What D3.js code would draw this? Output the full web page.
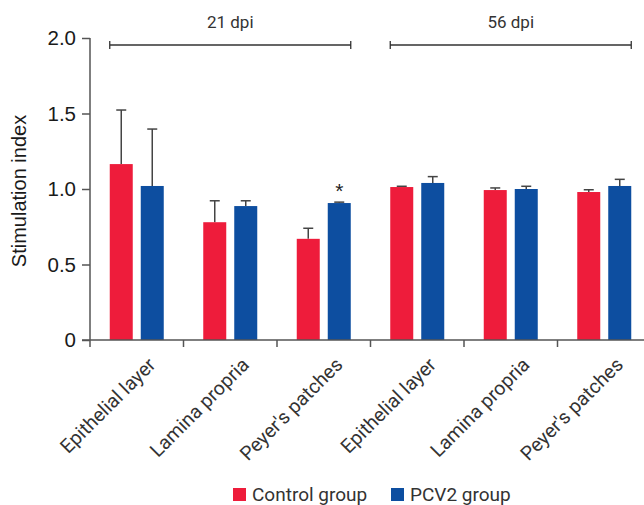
<!DOCTYPE html>
<html>
<head>
<meta charset="utf-8">
<script src="https://cdn.jsdelivr.net/npm/d3@7"></script>
<style>
  body { margin: 0; background: #fff; }
  svg { display: block; }
</style>
</head>
<body>
<svg id="chart" width="644" height="505"></svg>
<script>

// data
var categories = ['21-epi', '21-lam', '21-pey', '56-epi', '56-lam', '56-pey'];
var catLabels = ['Epithelial layer', 'Lamina propria', "Peyer's patches",
                 'Epithelial layer', 'Lamina propria', "Peyer's patches"];
var groups = ['Control group', 'PCV2 group'];
var controlMean = [1.165, 0.78, 0.67, 1.013, 0.993, 0.98];
var controlErr  = [1.523, 0.922, 0.74, 1.018, 1.007, 0.995];
var pcv2Mean    = [1.02, 0.887, 0.907, 1.04, 1.0, 1.02];
var pcv2Err     = [1.397, 0.922, 0.913, 1.082, 1.018, 1.064];
var yTicks = [0, 0.5, 1.0, 1.5, 2.0];
var timepoints = [
  { label: '21 dpi', first: '21-epi', last: '21-pey' },
  { label: '56 dpi', first: '56-epi', last: '56-pey' }
];
var starAt = '21-pey';

var axisColor = '#555';
var textColor = '#333';
var color = d3.scaleOrdinal().domain(groups).range(['#ee1c3b', '#0d4ea0']);

var plotLeft = 90, plotTop = 38, plotBottom = 340, bandW = 93.5;

var svg = d3.select('#chart');

var x = d3.scaleBand().domain(categories)
  .range([plotLeft, plotLeft + bandW * categories.length]);
var y = d3.scaleLinear().domain([0, 2]).range([plotBottom, plotTop]);

var barW = 23, gap = 8;
var xg = d3.scaleOrdinal().domain(groups)
  .range([bandW / 2 - gap / 2 - barW, bandW / 2 + gap / 2]);

var rows = [];
categories.forEach(function(c, i){
  rows.push({cat: c, key: groups[0], v: controlMean[i], e: controlErr[i]});
  rows.push({cat: c, key: groups[1], v: pcv2Mean[i], e: pcv2Err[i]});
});

// error bars (upper only), drawn under the bars
var eb = svg.append('g').attr('stroke', '#444').attr('stroke-width', 1.5);
rows.forEach(function(d){
  var cx = x(d.cat) + xg(d.key) + barW / 2;
  eb.append('line').attr('x1', cx).attr('x2', cx)
    .attr('y1', y(d.v)).attr('y2', y(d.e));
  eb.append('line').attr('x1', cx - 5).attr('x2', cx + 5)
    .attr('y1', y(d.e)).attr('y2', y(d.e));
});

svg.append('g').selectAll('rect')
  .data(rows)
  .join('rect')
    .attr('x', d => x(d.cat) + xg(d.key))
    .attr('y', d => y(d.v))
    .attr('width', barW)
    .attr('height', d => plotBottom - y(d.v))
    .attr('fill', d => color(d.key));

// y axis
var yAxis = svg.append('g')
  .attr('transform', 'translate(' + plotLeft + ',0)')
  .call(d3.axisLeft(y).tickValues(yTicks)
        .tickFormat(d => d === 0 ? '0' : d3.format('.1f')(d))
        .tickSize(8).tickPadding(6));
yAxis.select('.domain').attr('stroke', axisColor).attr('stroke-width', 1.5)
  .attr('d', 'M0,' + plotTop + 'V' + plotBottom);
yAxis.selectAll('.tick line').attr('stroke', axisColor).attr('stroke-width', 1.5);
yAxis.selectAll('.tick text')
  .attr('fill', '#1a1a1a')
  .style('font-family', '"Liberation Sans", Arial, sans-serif')
  .style('font-size', '20.5px');

// x axis: line + ticks at category boundaries
var xa = svg.append('g').attr('stroke', axisColor).attr('stroke-width', 1.5);
xa.append('line').attr('x1', plotLeft - 8).attr('x2', 644)
  .attr('y1', plotBottom).attr('y2', plotBottom);
categories.forEach(function(c){
  xa.append('line').attr('x1', x(c)).attr('x2', x(c))
    .attr('y1', plotBottom).attr('y2', plotBottom + 7);
});

svg.append('g').selectAll('text')
  .data(categories)
  .join('text')
    .attr('transform', (d, i) => 'translate(' + (x(d) + bandW / 2 + 20) + ',' + (plotBottom + 26) + ') rotate(-45)')
    .attr('text-anchor', 'end')
    .attr('fill', textColor)
    .style('font-family', 'Roboto, sans-serif')
    .style('font-size', '19.5px')
    .text((d, i) => catLabels[i]);

// y label
svg.append('text')
  .attr('transform', 'translate(26,' + ((plotTop + plotBottom) / 2 + 2) + ') rotate(-90)')
  .attr('text-anchor', 'middle')
  .attr('fill', '#1a1a1a')
  .style('font-family', '"Liberation Sans", Arial, sans-serif')
  .style('font-size', '20px')
  .text('Stimulation index');

// timepoint brackets
var br = svg.append('g');
timepoints.forEach(function(t){
  var x1 = x(t.first) + xg(groups[0]);
  var x2 = x(t.last) + xg(groups[1]) + barW;
  var yy = 45;
  br.append('path')
    .attr('d', 'M' + x1 + ',' + (yy - 4) + 'V' + (yy + 4) + 'M' + x1 + ',' + yy + 'H' + x2 +
               'M' + x2 + ',' + (yy - 4) + 'V' + (yy + 4))
    .attr('stroke', '#333').attr('stroke-width', 1.3).attr('fill', 'none');
  br.append('text')
    .attr('x', (x1 + x2) / 2).attr('y', 28)
    .attr('text-anchor', 'middle')
    .attr('fill', textColor)
    .style('font-family', 'Roboto, sans-serif')
    .style('font-size', '17px')
    .text(t.label);
});

// significance star
var si = categories.indexOf(starAt);
svg.append('text')
  .attr('x', x(starAt) + xg(groups[1]) + barW / 2)
  .attr('y', y(pcv2Err[si]) - 4)
  .attr('text-anchor', 'middle')
  .attr('fill', '#222')
  .style('font-family', '"Liberation Sans", Arial, sans-serif')
  .style('font-size', '21px')
  .text('*');

// legend
var lg = svg.append('g').attr('transform', 'translate(233,488)');
var lx = [0, 158];
groups.forEach(function(g, i){
  lg.append('rect').attr('x', lx[i]).attr('y', 0).attr('width', 13).attr('height', 13)
    .attr('fill', color(g));
  lg.append('text').attr('x', lx[i] + 19).attr('y', 13)
    .attr('fill', textColor)
    .style('font-family', 'Roboto, sans-serif')
    .style('font-size', '19px')
    .text(g);
});

</script>
</body>
</html>
